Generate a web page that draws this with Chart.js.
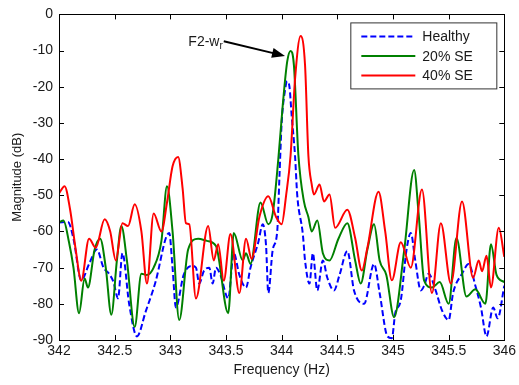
<!DOCTYPE html>
<html>
<head>
<meta charset="utf-8">
<script src="https://cdn.jsdelivr.net/npm/chart.js@4.4.1/dist/chart.umd.min.js"></script>
<style>
  html, body { margin: 0; padding: 0; background: #fff; }
</style>
</head>
<body>
<canvas id="spectrum" width="519" height="385"></canvas>
<script>
// frequency (Hz) / magnitude (dB) pairs for each spectrum
const freqHealthy = [342.00, 342.08, 342.13, 342.20, 342.27, 342.34, 342.40, 342.45, 342.49, 342.53, 342.57, 342.63, 342.70, 342.78, 342.87, 342.96, 342.99, 343.02, 343.05, 343.12, 343.19, 343.23, 343.26, 343.30, 343.35, 343.38, 343.41, 343.45, 343.52, 343.57, 343.62, 343.68, 343.72, 343.79, 343.83, 343.86, 343.88, 343.92, 343.96, 343.98, 344.00, 344.03, 344.05, 344.07, 344.09, 344.12, 344.14, 344.19, 344.21, 344.25, 344.28, 344.32, 344.37, 344.41, 344.47, 344.52, 344.59, 344.65, 344.74, 344.83, 344.88, 344.95, 344.99, 345.02, 345.07, 345.12, 345.16, 345.20, 345.25, 345.28, 345.32, 345.38, 345.44, 345.50, 345.54, 345.62, 345.68, 345.74, 345.79, 345.84, 345.90, 345.94, 346.00];
const magHealthy = [-57.5, -57.4, -62, -73.5, -69, -65, -70, -71.7, -74, -78.5, -66, -80, -89, -82, -73.6, -61.8, -60.4, -70, -81, -72, -69.5, -70, -74.4, -71, -70, -74.4, -70, -72, -78.5, -66, -72, -75.5, -70, -63, -58, -64, -77, -65, -60, -45, -30, -21, -18.5, -20, -28, -39, -50, -60.7, -68, -74.4, -66, -76.3, -68, -72.8, -76.3, -72, -65.4, -76.3, -80, -69, -77, -89, -89.5, -82.6, -79, -65.4, -60.4, -68, -76.3, -75, -71.7, -76, -81.8, -84.5, -77, -71.7, -69, -75, -81, -89, -81, -84, -75];

const freq20 = [342.00, 342.04, 342.09, 342.13, 342.18, 342.23, 342.26, 342.32, 342.37, 342.42, 342.47, 342.52, 342.56, 342.61, 342.68, 342.74, 342.79, 342.85, 342.92, 342.97, 343.02, 343.08, 343.16, 343.25, 343.33, 343.41, 343.52, 343.57, 343.65, 343.68, 343.72, 343.81, 343.88, 343.92, 343.97, 344.01, 344.05, 344.08, 344.11, 344.15, 344.20, 344.24, 344.27, 344.32, 344.37, 344.43, 344.51, 344.59, 344.66, 344.71, 344.77, 344.83, 344.88, 344.94, 345.01, 345.10, 345.19, 345.23, 345.28, 345.35, 345.42, 345.50, 345.57, 345.66, 345.74, 345.83, 345.88, 345.93, 346.00];
const mag20 = [-57.5, -57, -63, -70, -82.6, -73, -75.5, -65, -62, -70, -83, -68, -58.5, -68, -86.4, -71.7, -72, -70, -62.6, -47.5, -60, -84.5, -65, -62, -62.6, -64, -82.6, -60.4, -68, -66, -69, -52, -58, -55, -40, -25, -13, -10.1, -14, -38.8, -51.7, -56, -60, -57, -66, -68, -62, -57.7, -68, -74.4, -65, -58, -68, -72, -83.7, -65.4, -43, -55, -73.6, -75.5, -74, -80, -61.8, -78, -76, -80, -63.5, -72, -74];

const freq40 = [342.00, 342.05, 342.10, 342.15, 342.20, 342.27, 342.33, 342.41, 342.46, 342.51, 342.57, 342.62, 342.68, 342.74, 342.79, 342.85, 342.92, 342.97, 343.02, 343.07, 343.11, 343.14, 343.17, 343.23, 343.34, 343.39, 343.43, 343.48, 343.54, 343.62, 343.68, 343.73, 343.80, 343.88, 343.95, 344.00, 344.04, 344.08, 344.12, 344.17, 344.21, 344.24, 344.27, 344.29, 344.34, 344.38, 344.43, 344.48, 344.59, 344.66, 344.72, 344.77, 344.87, 344.93, 344.99, 345.07, 345.16, 345.26, 345.35, 345.43, 345.52, 345.62, 345.72, 345.77, 345.80, 345.84, 345.88, 345.95, 346.00];
const mag40 = [-49.5, -47.5, -54, -65, -73.6, -62, -64.5, -56.6, -60, -68, -57.7, -58.5, -52.5, -60, -74.4, -55, -60, -52, -42, -39.4, -48, -57.7, -58, -78.5, -58.5, -68, -63.5, -73.6, -60.7, -77, -62, -67.6, -56, -50.3, -56, -58, -50, -39, -18, -6, -14, -39, -47, -49.8, -47, -51.7, -49.8, -59, -54, -61.8, -70.8, -64.5, -49, -60, -73.5, -63, -70, -48.4, -77, -57.7, -74.4, -51.7, -72.8, -68, -71, -66.7, -75.5, -59, -67];

const seriesNames = ['Healthy', '20% SE', '40% SE'];
const xTicks = [342, 342.5, 343, 343.5, 344, 344.5, 345, 345.5, 346];
const yTicks = [0, -10, -20, -30, -40, -50, -60, -70, -80, -90];

// arrow annotation: tail / tip in data units
const arrowLabel = 'F2-w';
const arrowSub = 'r';
const arrowTail = [343.48, -7.4];
const arrowTip = [344.03, -11.5];

const colors = ['#0000ff', '#008000', '#ff0000'];
const dashes = [[6, 3], [], []];

const toPoints = (xs, ys) => xs.map((x, i) => ({ x: x, y: ys[i] }));
const allFreq = [freqHealthy, freq20, freq40];
const allMag = [magHealthy, mag20, mag40];

const FONT = 'Liberation Sans, Arial, sans-serif';
const INK = '#1a1a1a';

// box around the plot with MATLAB-like inward ticks on every side
const frameTicks = {
  id: 'frameTicks',
  afterDatasetsDraw(chart) {
    const { ctx, chartArea: a, scales: { x, y } } = chart;
    ctx.save();
    ctx.strokeStyle = '#000';
    ctx.lineWidth = 1;
    ctx.beginPath();
    xTicks.forEach(v => {
      const px = Math.round(x.getPixelForValue(v)) + 0.5;
      ctx.moveTo(px, a.bottom); ctx.lineTo(px, a.bottom - 5);
      ctx.moveTo(px, a.top); ctx.lineTo(px, a.top + 5);
    });
    yTicks.forEach(v => {
      const py = Math.round(y.getPixelForValue(v)) + 0.5;
      ctx.moveTo(a.left, py); ctx.lineTo(a.left + 5, py);
      ctx.moveTo(a.right, py); ctx.lineTo(a.right - 5, py);
    });
    ctx.stroke();
    ctx.strokeRect(Math.round(a.left) + 0.5, Math.round(a.top) + 0.5,
      Math.round(a.right - a.left), Math.round(a.bottom - a.top));
    ctx.restore();
  }
};

// legend box in the upper right corner
const boxLegend = {
  id: 'boxLegend',
  afterDraw(chart) {
    const { ctx, chartArea: a } = chart;
    const bx = a.right - 154, by = a.top + 8, bw = 146, bh = 66;
    ctx.save();
    ctx.fillStyle = '#fff';
    ctx.fillRect(bx, by, bw, bh);
    ctx.strokeStyle = '#333';
    ctx.lineWidth = 1;
    ctx.strokeRect(bx + 0.5, by + 0.5, bw, bh);
    ctx.font = '14px ' + FONT;
    ctx.textBaseline = 'middle';
    seriesNames.forEach((name, i) => {
      const ry = by + 14 + i * 19.5;
      ctx.strokeStyle = colors[i];
      ctx.lineWidth = 2;
      ctx.setLineDash(dashes[i]);
      ctx.beginPath();
      ctx.moveTo(bx + 11, ry); ctx.lineTo(bx + 65, ry);
      ctx.stroke();
      ctx.setLineDash([]);
      ctx.fillStyle = INK;
      ctx.fillText(name, bx + 72, ry + 1);
    });
    ctx.restore();
  }
};

// labelled arrow pointing at the 20% SE peak
const peakArrow = {
  id: 'peakArrow',
  afterDatasetsDraw(chart) {
    const { ctx, scales: { x, y } } = chart;
    const tx = x.getPixelForValue(arrowTail[0]), ty = y.getPixelForValue(arrowTail[1]);
    const hx = x.getPixelForValue(arrowTip[0]), hy = y.getPixelForValue(arrowTip[1]);
    const ang = Math.atan2(hy - ty, hx - tx);
    ctx.save();
    ctx.strokeStyle = '#000';
    ctx.fillStyle = '#000';
    ctx.lineWidth = 2;
    ctx.beginPath();
    ctx.moveTo(tx, ty);
    ctx.lineTo(hx - 10 * Math.cos(ang), hy - 10 * Math.sin(ang));
    ctx.stroke();
    ctx.beginPath();
    ctx.moveTo(hx, hy);
    ctx.lineTo(hx - 13 * Math.cos(ang) + 5 * Math.sin(ang), hy - 13 * Math.sin(ang) - 5 * Math.cos(ang));
    ctx.lineTo(hx - 13 * Math.cos(ang) - 5 * Math.sin(ang), hy - 13 * Math.sin(ang) + 5 * Math.cos(ang));
    ctx.closePath();
    ctx.fill();
    ctx.fillStyle = INK;
    ctx.textBaseline = 'alphabetic';
    ctx.font = '14px ' + FONT;
    const w = ctx.measureText(arrowLabel).width;
    ctx.font = '10px ' + FONT;
    const ws = ctx.measureText(arrowSub).width;
    const sx = tx - ws - 1;
    ctx.fillText(arrowSub, sx, ty + 8);
    ctx.font = '14px ' + FONT;
    ctx.fillText(arrowLabel, sx - w, ty + 5);
    ctx.restore();
  }
};

new Chart(document.getElementById('spectrum'), {
  type: 'line',
  data: {
    datasets: seriesNames.map((name, i) => ({
      label: name,
      data: toPoints(allFreq[i], allMag[i]),
      borderColor: colors[i],
      borderWidth: 2,
      borderDash: dashes[i],
      pointRadius: 0,
      fill: false,
      cubicInterpolationMode: 'monotone',
      order: 2 - i
    }))
  },
  options: {
    responsive: false,
    animation: false,
    devicePixelRatio: 1,
    layout: { padding: { left: 0, top: 11, right: 12, bottom: 0 } },
    plugins: {
      legend: { display: false },
      tooltip: { enabled: false }
    },
    scales: {
      x: {
        type: 'linear',
        min: 342,
        max: 346,
        afterFit: s => { s.height = 45; },
        afterBuildTicks: s => { s.ticks = xTicks.map(v => ({ value: v })); },
        ticks: {
          color: INK,
          font: { family: FONT, size: 14 },
          padding: 3,
          maxRotation: 0,
          callback: v => String(v)
        },
        grid: { display: false, drawTicks: false },
        border: { display: false },
        title: {
          display: true,
          text: 'Frequency (Hz)',
          color: INK,
          font: { family: FONT, size: 14 },
          padding: { top: 0, bottom: 6 }
        }
      },
      y: {
        min: -90,
        max: 0,
        afterFit: s => { s.width = 59; },
        afterBuildTicks: s => { s.ticks = yTicks.map(v => ({ value: v })); },
        ticks: {
          color: INK,
          font: { family: FONT, size: 14 },
          padding: 6,
          callback: v => String(v)
        },
        grid: { display: false, drawTicks: false },
        border: { display: false },
        title: {
          display: true,
          text: 'Magnitude (dB)',
          color: INK,
          font: { family: FONT, size: 13 },
          padding: { top: 10, bottom: 0 }
        }
      }
    }
  },
  plugins: [frameTicks, peakArrow, boxLegend]
});
</script>
</body>
</html>
